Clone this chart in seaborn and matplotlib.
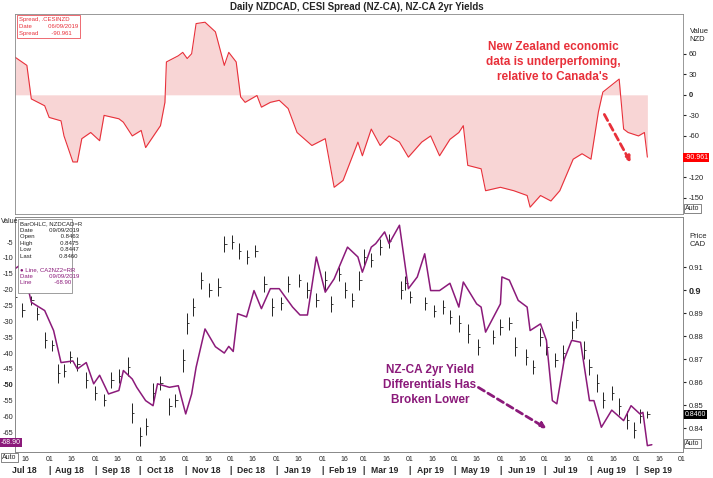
import pandas as pd
import numpy as np
import matplotlib
matplotlib.use("Agg")
import matplotlib.pyplot as plt
import matplotlib.dates as mdates
import matplotlib.transforms as mtrans
import seaborn as sns

sns.set_style("white")
plt.rcParams['font.family'] = ['Liberation Sans', 'DejaVu Sans']

start = pd.Timestamp("2018-07-09")

# CESI spread (NZ-CA), days since 9 Jul 2018
spread_days = [0, 8, 11, 20, 23, 31, 33, 39, 42, 45, 51, 57, 60, 70, 73, 79, 85, 88, 98, 101,
               102, 110, 113, 116, 119, 122, 128, 135, 141, 144, 149, 152, 155, 163, 166, 172,
               178, 184, 190, 200, 209, 215, 221, 231, 234, 240, 246, 252, 259, 265, 274, 280,
               286, 293, 299, 302, 305, 314, 317, 327, 336, 345, 347, 354, 361, 367, 376, 382,
               388, 393, 396, 407, 410, 413, 420, 424, 426]
spread_vals = [55, 43, -6, -16, -33, -38, -60, -98, -98, -64, -55, -67, -30, -35, -40, -60, -52,
               -77, -45, -11, 48, 57, 62, 53, 60, 104, 106, 92, 43, 62, 48, -3, -11, -1, -18, -11,
               -8, -20, -55, -74, -64, -135, -125, -69, -89, -50, -74, -60, -69, -91, -69, -60,
               -89, -65, -55, -45, -103, -108, -140, -135, -140, -147, -164, -147, -155, -140,
               -94, -86, -94, -25, 4, 23, -50, -55, -60, -55, -90.961]

# CA-NZ 2yr yield spread line
yld_days = [0, 5, 11, 20, 26, 31, 39, 42, 48, 53, 57, 63, 70, 73, 79, 82, 88, 93, 96, 104, 110,
            115, 119, 122, 128, 135, 141, 144, 147, 150, 156, 161, 166, 172, 178, 187, 192, 197,
            203, 209, 215, 224, 231, 234, 240, 243, 249, 252, 259, 265, 271, 276, 280, 286, 293,
            299, 302, 311, 314, 317, 327, 328, 333, 339, 345, 347, 354, 358, 362, 365, 370, 375,
            381, 387, 390, 395, 402, 410, 415, 421, 423, 426, 429]
yld_vals = [-13.4, -11.8, -24, -26.6, -32.9, -43, -42.5, -45, -43, -49.7, -47, -52.9, -51.8,
            -45.5, -48.2, -50.8, -55, -56.6, -49.7, -50.8, -50.3, -59.2, -52.9, -44.5, -32.4,
            -38, -40, -37.9, -39.5, -27.6, -28.6, -20.3, -26, -19.7, -19.7, -25.5, -28, -28,
            -9.7, -20.8, -16.6, -6.6, -9.7, -14.5, -6.6, -5.5, -1.8, -5.5, 0.3, -19.7, -16,
            -8.7, -20.3, -20.3, -18, -25.5, -17.6, -24.5, -25.5, -33.4, -24.5, -16, -17, -23.4,
            -25.5, -32.9, -30.8, -36, -55, -56, -42, -36, -36.6, -55, -55, -63.4, -58, -61.3,
            -56.6, -59.2, -58.7, -69.2, -68.9]

# NZDCAD bars (close and high-low range)
px_days = [0, 5, 11, 15, 20, 25, 29, 33, 37, 42, 48, 54, 60, 65, 70, 76, 79, 84, 88, 93, 98,
           104, 108, 113, 116, 120, 125, 131, 137, 141, 146, 151, 156, 162, 168, 173, 179, 184,
           191, 197, 203, 209, 213, 218, 222, 227, 232, 235, 240, 246, 252, 260, 263, 266, 276,
           282, 288, 293, 299, 305, 312, 322, 327, 333, 337, 344, 349, 354, 358, 364, 369, 375,
           378, 383, 387, 392, 396, 402, 407, 412, 417, 421, 426]
px_close = [0.8970, 0.8913, 0.8956, 0.8898, 0.8783, 0.8760, 0.8638, 0.8650, 0.8710,
            0.8680, 0.8610, 0.8552, 0.8523, 0.8610, 0.8625, 0.8667, 0.8465, 0.8364, 0.8407,
            0.8552, 0.8595, 0.8494, 0.8520, 0.8696, 0.8855, 0.8927, 0.9042, 0.9000, 0.9014,
            0.9201, 0.9208, 0.9170, 0.9143, 0.9171, 0.9028, 0.8927, 0.8942, 0.9028,
            0.9042, 0.9000, 0.8956, 0.9042, 0.8940, 0.9071, 0.9000, 0.8956, 0.9042, 0.9143,
            0.9130, 0.9187, 0.9215, 0.9000, 0.9030, 0.8970, 0.8942, 0.8910, 0.8925, 0.8884,
            0.8855, 0.8811, 0.8754, 0.8797, 0.8840, 0.8855, 0.8754, 0.8710, 0.8667, 0.8797,
            0.8754, 0.8696, 0.8725, 0.8826, 0.8869, 0.8740, 0.8667, 0.8595, 0.8523, 0.8552,
            0.8494, 0.8436, 0.8393, 0.8451, 0.8460]
px_rng = [0.005, 0.006, 0.004, 0.006, 0.007, 0.005, 0.008, 0.006, 0.005, 0.006, 0.007,
          0.006, 0.005, 0.007, 0.006, 0.008, 0.009, 0.008, 0.007, 0.009, 0.006, 0.007, 0.006,
          0.010, 0.009, 0.008, 0.007, 0.006, 0.008, 0.007, 0.006, 0.007, 0.006, 0.005,
          0.007, 0.008, 0.006, 0.007, 0.006, 0.007, 0.006, 0.008, 0.007, 0.006, 0.007, 0.006,
          0.008, 0.007, 0.006, 0.007, 0.006, 0.008, 0.006, 0.005, 0.006, 0.005, 0.006, 0.006,
          0.007, 0.008, 0.007, 0.006, 0.007, 0.006, 0.008, 0.007, 0.006, 0.008, 0.007, 0.006,
          0.007, 0.008, 0.007, 0.008, 0.007, 0.008, 0.007, 0.006, 0.007, 0.008, 0.007, 0.006,
          0.003]

spread = pd.DataFrame({"date": start + pd.to_timedelta(spread_days, "D"), "val": spread_vals})
yld = pd.DataFrame({"date": start + pd.to_timedelta(yld_days, "D"), "val": yld_vals})
px = pd.DataFrame({"date": start + pd.to_timedelta(px_days, "D"), "close": px_close, "rng": px_rng})
px["hi"] = px["close"] + px["rng"] * 0.5
px["lo"] = px["close"] - px["rng"] * 0.5

fig = plt.figure(figsize=(7.13, 4.78), dpi=100)
W, H = 713, 478
def box(l, t, r, b):
    return [l / W, 1 - b / H, (r - l) / W, (b - t) / H]

xmin = start
xmax = start + pd.Timedelta(days=450)

# ---------- top panel ----------
ax1 = fig.add_axes(box(15, 14, 683, 214))
red = "#e8303a"
ax1.fill_between(spread["date"], spread["val"], 0, color="#f4b3b3", alpha=0.55, lw=0)
sns.lineplot(data=spread, x="date", y="val", ax=ax1, color=red, lw=0.8)
ax1.set_xlim(xmin, xmax)
ax1.set_ylim(-174, 118)
ax1.yaxis.tick_right()
ax1.set_yticks([-150, -120, -60, -30, 0, 30, 60])
ax1.set_yticklabels(["-150", "-120", "-60", "-30", "0", "30", "60"])
for t in ax1.get_yticklabels():
    t.set_fontsize(5.5)
    if t.get_text() == "0":
        t.set_fontweight("bold")
ax1.tick_params(axis="y", length=2, pad=2)
ax1.set_xticks([])
ax1.set_xlabel("")
ax1.set_ylabel("")
ax1.text(1.01, 0.93, "Value\nNZD", transform=ax1.transAxes, fontsize=5.5, va="top")
ax1.text(1.003, 0.01, "Auto", transform=ax1.transAxes, fontsize=5, ha="left", va="bottom",
         bbox=dict(fc="white", ec="#555555", lw=0.5, pad=0.8))
ax1.text(1.002, (-90.961 + 174) / 292, "-90.961", transform=ax1.transAxes, fontsize=5,
         color="white", va="center", bbox=dict(fc="#ff0000", ec="none", pad=0.8))
ax1.text(0.006, 0.985, "Spread, .CESINZD\nDate          06/09/2019\nSpread        -90.961",
         transform=ax1.transAxes, fontsize=4.3, color=red, va="top", linespacing=1.5,
         bbox=dict(fc="white", ec=red, lw=0.5, pad=1.5))
for s in ax1.spines.values():
    s.set_color("#888888")
    s.set_linewidth(0.6)

fig.text(553 / W, 1 - 62 / H, "New Zealand economic\ndata is underperfoming,\nrelative to Canada's",
         color=red, fontsize=8.5, fontweight="bold", ha="center", va="center", linespacing=1.3)
fig.add_artist(matplotlib.patches.FancyArrowPatch((603 / W, 1 - 112 / H), (632 / W, 1 - 165 / H),
               transform=fig.transFigure, arrowstyle="-|>", mutation_scale=8, color=red,
               lw=2, linestyle=(0, (2.5, 1.5))))

# ---------- bottom panel ----------
bt, bb = 217, 452
ax2 = fig.add_axes(box(15, bt, 683, bb))
def ay(ypix):
    return (bb - ypix) / (bb - bt)
ax3 = ax2.twinx()
purple = "#8b1a7a"
ax3.vlines(px["date"], px["lo"], px["hi"], color="#222222", lw=0.7)
ax3.hlines(px["close"], px["date"], px["date"] + pd.Timedelta(days=1.5), color="#222222", lw=0.6)
ax3.set_ylim(0.8296, 0.9318)
sns.lineplot(data=yld, x="date", y="val", ax=ax2, color=purple, lw=1.1)
ax2.set_zorder(ax3.get_zorder() + 1)
ax2.patch.set_visible(False)
ax2.set_ylim(-71.2, 2.9)
ax2.set_xlim(xmin, xmax)
ax2.set_yticks(list(range(-65, 0, 5)))
ax2.set_yticklabels([str(v) for v in range(-65, 0, 5)])
ax2.tick_params(axis="y", labelsize=5.3, length=0, pad=1)
for t in ax2.get_yticklabels():
    if t.get_text() == "-50":
        t.set_fontweight("bold")
ax2.set_ylabel("")
ax2.set_xlabel("")
ax3.set_yticks([0.84, 0.85, 0.86, 0.87, 0.88, 0.89, 0.90, 0.91])
ax3.set_yticklabels(["0.84", "0.85", "0.86", "0.87", "0.88", "0.89", "0.9", "0.91"])
for t in ax3.get_yticklabels():
    t.set_fontsize(5.5)
    if t.get_text() == "0.9":
        t.set_fontweight("bold")
        t.set_fontsize(6.5)
ax3.tick_params(axis="y", length=2, pad=2)
ax3.text(1.01, 0.93, "Price\nCAD", transform=ax3.transAxes, fontsize=5.5, va="top")
ax3.text(1.002, (0.8460 - 0.8296) / (0.9318 - 0.8296), "0.8460", transform=ax3.transAxes,
         fontsize=5, color="white", va="center", bbox=dict(fc="black", ec="none", pad=0.8))
ax3.text(1.003, 0.02, "Auto", transform=ax3.transAxes, fontsize=5, va="bottom",
         bbox=dict(fc="white", ec="#555555", lw=0.5, pad=0.8))
ax2.text(-0.021, (-68.9 + 71.2) / 74.1 + 0.01, "-68.90", transform=ax2.transAxes, fontsize=5,
         color="white", va="center", bbox=dict(fc=purple, ec="none", pad=0.8))
ax2.text(-0.019, -0.008, "Auto", transform=ax2.transAxes, fontsize=5, va="top",
         bbox=dict(fc="white", ec="#555555", lw=0.5, pad=0.8))
ax2.text(-0.021, 0.995, "Value", transform=ax2.transAxes, fontsize=5, va="top")
ax2.add_patch(matplotlib.patches.Rectangle((0.004, ay(293)), 0.081, ay(219) - ay(293),
              transform=ax2.transAxes, fc="white", ec="#777777", lw=0.5, zorder=5))
ax2.text(0.008, ay(221),
         "BarOHLC, NZDCAD=R\nDate          09/09/2019\nOpen                0.8463\nHigh                 0.8475\n"
         "Low                  0.8447\nLast                 0.8460",
         transform=ax2.transAxes, fontsize=4.3, color="#222222", va="top", linespacing=1.4,
         zorder=6)
ax2.text(0.008, ay(267), "\u25cf Line, CA2NZ2=RR\nDate          09/09/2019\nLine              -68.90",
         transform=ax2.transAxes, fontsize=4.3, color=purple, va="top", linespacing=1.4,
         zorder=6)
for a in (ax2, ax3):
    for s in a.spines.values():
        s.set_color("#888888")
        s.set_linewidth(0.6)

# date axis
ax2.xaxis.set_major_locator(mdates.DayLocator(bymonthday=[1, 16]))
ax2.xaxis.set_major_formatter(mdates.DateFormatter("%d"))
ax2.tick_params(axis="x", labelsize=5, length=2, pad=1)
blend = mtrans.blended_transform_factory(ax2.transData, ax2.transAxes)
for m in pd.date_range("2018-07-01", "2019-09-01", freq="MS"):
    mid = m + pd.Timedelta(days=14)
    ax2.text(mid, -0.058, m.strftime("%b %y"), transform=blend, fontsize=6.2,
             fontweight="bold", ha="center", va="top", clip_on=False)
    if m > start:
        ax2.text(m, -0.058, "|", transform=blend, fontsize=6.2, fontweight="bold",
                 ha="center", va="top", clip_on=False)

fig.text(430 / W, 1 - 385 / H, "NZ-CA 2yr Yield\nDifferentials Has\nBroken Lower",
         color=purple, fontsize=8.5, fontweight="bold", ha="center", va="center", linespacing=1.3)
fig.add_artist(matplotlib.patches.FancyArrowPatch((476 / W, 1 - 386 / H), (549 / W, 1 - 430 / H),
               transform=fig.transFigure, arrowstyle="-|>", mutation_scale=8, color=purple,
               lw=2, linestyle=(0, (2.5, 1.5))))

fig.text(0.5, 1 - 7 / H, "Daily NZDCAD, CESI Spread (NZ-CA), NZ-CA 2yr Yields", fontsize=7,
         fontweight="bold", ha="center", va="center")

fig.savefig("out.png", dpi=100)
